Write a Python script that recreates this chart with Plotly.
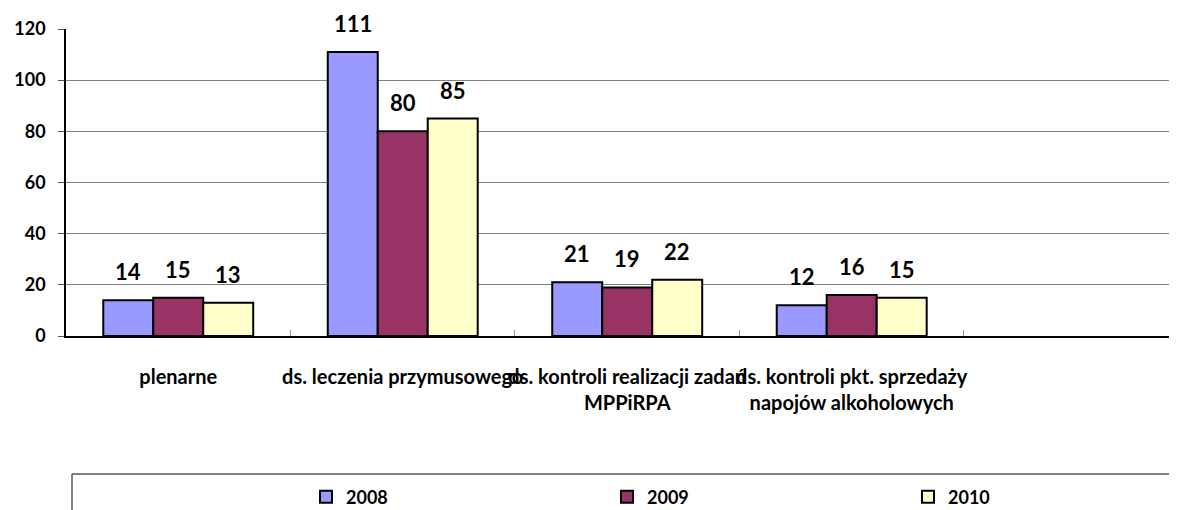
import plotly.graph_objects as go

categories = [
    "plenarne",
    "ds. leczenia przymusowego",
    "ds. kontroli realizacji zadań<br>MPPiRPA",
    "ds. kontroli pkt. sprzedaży<br>napojów alkoholowych",
    " ",
]
series_names = ["2008", "2009", "2010"]
values_2008 = [14, 111, 21, 12]
values_2009 = [15, 80, 19, 16]
values_2010 = [13, 85, 22, 15]
y_ticks = [0, 20, 40, 60, 80, 100, 120]
grid_vals = [20, 40, 60, 80, 100]

colors = ["#9999FF", "#993366", "#FFFFCC"]
series_values = [values_2008, values_2009, values_2010]
legend_ids = ["legend", "legend2", "legend3"]
legend_px = [306, 607, 908]

FONT = "Lato"
OFF = 8  # page body margin of the browser
W, H = 1177 - OFF, 510 - OFF
ml, mr, mt = 66 - OFF, 0, 29 - OFF
mb = H - (336 - OFF)
plot_w = W - ml - mr
plot_h = H - mt - mb
x_range = [-0.5, 4.449]
bargap = 0.332
cat_px = plot_w / (x_range[1] - x_range[0])
bar_px = cat_px * (1 - bargap) / 3


def py(pix):
    return (mt + plot_h - (pix - OFF)) / plot_h


def px(pix):
    return (pix - OFF - ml) / plot_w


fig = go.Figure()
for name, vals, col, lid in zip(series_names, series_values, colors, legend_ids):
    fig.add_trace(go.Bar(
        name=name,
        x=categories[:len(vals)],
        y=vals,
        marker=dict(color=col, line=dict(color="black", width=2)),
        yaxis="y",
        legend=lid,
    ))

# invisible trace for grid axis
fig.add_trace(go.Scatter(x=[categories[0]], y=[0], yaxis="y2", mode="markers",
                         marker=dict(opacity=0), showlegend=False, hoverinfo="skip"))

annotations = []
for i, vals in enumerate(series_values):
    for cat, v in zip(categories, vals):
        annotations.append(dict(
            x=cat, y=v, xref="x", yref="y", text=str(v), showarrow=False,
            xanchor="center", yanchor="bottom", yshift=13,
            xshift=(i - 1) * bar_px,
            font=dict(family=FONT, size=22, color="black", weight="bold"),
        ))

shapes = [
    dict(type="line", xref="paper", yref="paper", x0=px(72), x1=1.02, y0=py(474), y1=py(474),
         line=dict(color="#595959", width=1.5)),
    dict(type="line", xref="paper", yref="paper", x0=px(72), x1=px(72), y0=py(474), y1=py(520),
         line=dict(color="#595959", width=1.5)),
]

legend_style = dict(orientation="h", xanchor="left", yanchor="middle", y=py(497),
                    font=dict(family=FONT, size=18, color="black", weight="bold"),
                    bgcolor="rgba(0,0,0,0)", borderwidth=0, itemclick=False,
                    itemdoubleclick=False)
legends = {lid: dict(legend_style, x=px(lp)) for lid, lp in zip(legend_ids, legend_px)}

fig.update_layout(
    width=W, height=H,
    margin=dict(l=ml, r=mr, t=mt, b=mb, autoexpand=False),
    paper_bgcolor="white", plot_bgcolor="white",
    barmode="group", bargap=bargap, bargroupgap=0,
    font=dict(family=FONT, size=19, color="black", weight="bold"),
    showlegend=True,
    xaxis=dict(type="category", categoryorder="array", categoryarray=categories,
               range=x_range, showline=True, linecolor="black", linewidth=1.5,
               ticks="inside", tickson="boundaries", ticklen=6, tickcolor="#999999",
               tickangle=0, ticklabelstandoff=22, showgrid=False, zeroline=False,
               automargin=False,
               tickfont=dict(family=FONT, size=20, color="black", weight="bold")),
    yaxis=dict(range=[0, 120], tickmode="array", tickvals=y_ticks,
               showline=True, linecolor="black", linewidth=1.5,
               ticks="outside", ticklen=6, tickcolor="#555555",
               showgrid=False, zeroline=False, ticklabelstandoff=9, automargin=False,
               tickfont=dict(family=FONT, size=18, color="black", weight="bold")),
    yaxis2=dict(range=[0, 120], overlaying="y", tickmode="array", tickvals=grid_vals,
                showgrid=True, gridcolor="#808080", gridwidth=1, showticklabels=False,
                ticks="", showline=False, zeroline=False, automargin=False),
    annotations=annotations,
    shapes=shapes,
    **legends,
)

fig.write_html("out.html")
